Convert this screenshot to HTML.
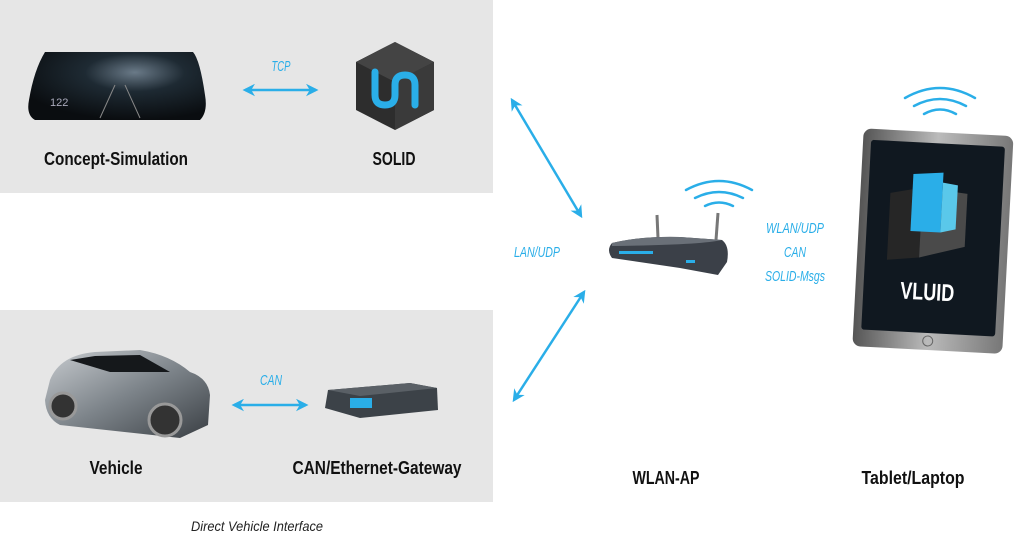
<!DOCTYPE html>
<html><head><meta charset="utf-8"><style>
html,body{margin:0;padding:0;background:#fff;width:1030px;height:535px;overflow:hidden}
svg{display:block}
.lb{font-family:"Liberation Sans",sans-serif;font-weight:bold;font-size:18px;fill:#111;text-anchor:middle}
.bl{font-family:"Liberation Sans",sans-serif;font-style:italic;font-size:15px;fill:#2aaee8;text-anchor:middle}
</style></head><body>
<svg width="1030" height="535" viewBox="0 0 1030 535">
<defs>
<marker id="ah" viewBox="0 0 10 10" refX="8" refY="5" markerWidth="5" markerHeight="5" orient="auto-start-reverse"><path d="M0,0 L10,5 L0,10 L3,5 z" fill="#2aaee8"/></marker>
<linearGradient id="car" x1="0" y1="0" x2="1" y2="1"><stop offset="0" stop-color="#c8ccd0"/><stop offset=".5" stop-color="#7d848a"/><stop offset="1" stop-color="#3a3f44"/></linearGradient>
<linearGradient id="tab" x1="0" y1="0" x2="1" y2="0"><stop offset="0" stop-color="#555"/><stop offset=".5" stop-color="#bbb"/><stop offset="1" stop-color="#777"/></linearGradient>
<radialGradient id="dash" cx=".6" cy=".3" r=".7"><stop offset="0" stop-color="#6a7a88"/><stop offset=".4" stop-color="#1e2a33"/><stop offset="1" stop-color="#0a0d10"/></radialGradient>
</defs>
<rect x="0" y="0" width="493" height="193" fill="#e6e6e6"/>
<rect x="0" y="310" width="493" height="192" fill="#e6e6e6"/>

<path d="M45,52 L193,52 Q200,60 205,95 Q208,112 200,120 L35,120 Q26,115 29,100 Q34,70 45,52 Z" fill="url(#dash)"/>
<text x="50" y="106" font-family="Liberation Sans" font-size="11" fill="#aab">122</text>
<path d="M100,118 L115,85 M140,118 L125,85" stroke="#888" stroke-width="1"/>
<text class="bl" x="281" y="71" textLength="19" lengthAdjust="spacingAndGlyphs">TCP</text>
<line x1="245" y1="90" x2="316" y2="90" stroke="#2aaee8" stroke-width="2.5" marker-start="url(#ah)" marker-end="url(#ah)"/>
<polygon points="395,42 434,62 434,110 395,130 356,110 356,62" fill="#2d2d2d"/>
<polygon points="395,42 434,62 395,82 356,62" fill="#444"/>
<polygon points="395,82 434,62 434,110 395,130" fill="#3a3a3a"/>
<path d="M375,72 L375,95 Q375,105 385,105 Q395,105 395,95 L395,85 Q395,75 405,75 Q415,75 415,85 L415,105" stroke="#2aaee8" stroke-width="7" fill="none" stroke-linecap="round"/>
<text class="lb" x="116" y="165" textLength="144" lengthAdjust="spacingAndGlyphs">Concept-Simulation</text>
<text class="lb" x="394" y="165" textLength="43" lengthAdjust="spacingAndGlyphs">SOLID</text>

<line x1="512" y1="100" x2="581" y2="216" stroke="#2aaee8" stroke-width="2.5" marker-start="url(#ah)" marker-end="url(#ah)"/>
<line x1="584" y1="292" x2="514" y2="400" stroke="#2aaee8" stroke-width="2.5" marker-start="url(#ah)" marker-end="url(#ah)"/>
<text class="bl" x="537" y="257" textLength="46" lengthAdjust="spacingAndGlyphs">LAN/UDP</text>

<line x1="657" y1="215" x2="658" y2="238" stroke="#777" stroke-width="3"/>
<line x1="718" y1="213" x2="716" y2="240" stroke="#777" stroke-width="3"/>
<path d="M612,243 Q640,236 680,237 L722,240 Q730,246 727,262 L718,275 L680,268 L612,258 Q606,250 612,243 Z" fill="#3b4048"/>
<path d="M612,243 Q640,236 680,237 L722,240 Q700,245 612,246 Z" fill="#6a7078"/>
<rect x="619" y="251" width="34" height="3" fill="#2aaee8"/>
<rect x="686" y="260" width="9" height="3" fill="#2aaee8"/>
<g fill="none" stroke="#2aaee8" stroke-width="2.5" stroke-linecap="round">
<path d="M686,190 Q719,172 752,190"/><path d="M695,198 Q719,186 743,198"/><path d="M705,206 Q719,199 733,206"/>
<path d="M905,98 Q940,78 975,98"/><path d="M914,106 Q940,92 966,106"/><path d="M924,114 Q940,105 956,114"/>
</g>
<text class="bl" x="795" y="233" textLength="58" lengthAdjust="spacingAndGlyphs">WLAN/UDP</text>
<text class="bl" x="795" y="257" textLength="22" lengthAdjust="spacingAndGlyphs">CAN</text>
<text class="bl" x="795" y="281" textLength="60" lengthAdjust="spacingAndGlyphs">SOLID-Msgs</text>

<g transform="rotate(3 930 240)">
<rect x="858" y="132" width="150" height="218" rx="8" fill="url(#tab)"/>
<rect x="866" y="143" width="134" height="190" rx="3" fill="#101820"/>
<circle cx="933" cy="341" r="5" fill="none" stroke="#666"/>
<polygon points="888,195 920,188 920,258 888,262" fill="#262626"/>
<polygon points="920,188 965,192 965,245 920,258" fill="#4a4a4a"/>
<polygon points="910,175 940,172 940,232 910,232" fill="#2aaee8"/>
<polygon points="940,182 955,184 955,228 940,232" fill="#5ac8ea"/>
<text x="930" y="300" font-family="'Liberation Sans',sans-serif" font-weight="bold" font-size="24" fill="#fff" text-anchor="middle" textLength="54" lengthAdjust="spacingAndGlyphs">VLUID</text>
</g>

<path d="M50,380 Q60,355 95,352 L140,350 Q170,355 190,372 Q208,378 210,395 L208,425 L180,438 L60,425 Q46,418 45,400 Z" fill="url(#car)"/>
<path d="M70,360 L95,356 L140,355 L170,372 L110,372 Z" fill="#15181b"/>
<circle cx="63" cy="406" r="13" fill="#333" stroke="#999" stroke-width="3"/>
<circle cx="165" cy="420" r="16" fill="#333" stroke="#999" stroke-width="3"/>
<text class="bl" x="271" y="385" textLength="22" lengthAdjust="spacingAndGlyphs">CAN</text>
<line x1="234" y1="405" x2="306" y2="405" stroke="#2aaee8" stroke-width="2.5" marker-start="url(#ah)" marker-end="url(#ah)"/>
<polygon points="328,390 410,383 437,388 438,410 360,418 325,408" fill="#3c4248"/>
<polygon points="328,390 410,383 437,388 360,396" fill="#5a6066"/>
<rect x="350" y="398" width="22" height="10" fill="#2aaee8"/>
<text class="lb" x="116" y="474" textLength="53" lengthAdjust="spacingAndGlyphs">Vehicle</text>
<text class="lb" x="377" y="474" textLength="169" lengthAdjust="spacingAndGlyphs">CAN/Ethernet-Gateway</text>
<text class="lb" x="666" y="484" textLength="67" lengthAdjust="spacingAndGlyphs">WLAN-AP</text>
<text class="lb" x="913" y="484" textLength="103" lengthAdjust="spacingAndGlyphs">Tablet/Laptop</text>
<text x="257" y="531" font-family="'Liberation Sans',sans-serif" font-style="italic" font-size="14" fill="#222" text-anchor="middle" textLength="132" lengthAdjust="spacingAndGlyphs">Direct Vehicle Interface</text>
</svg>
</body></html>
